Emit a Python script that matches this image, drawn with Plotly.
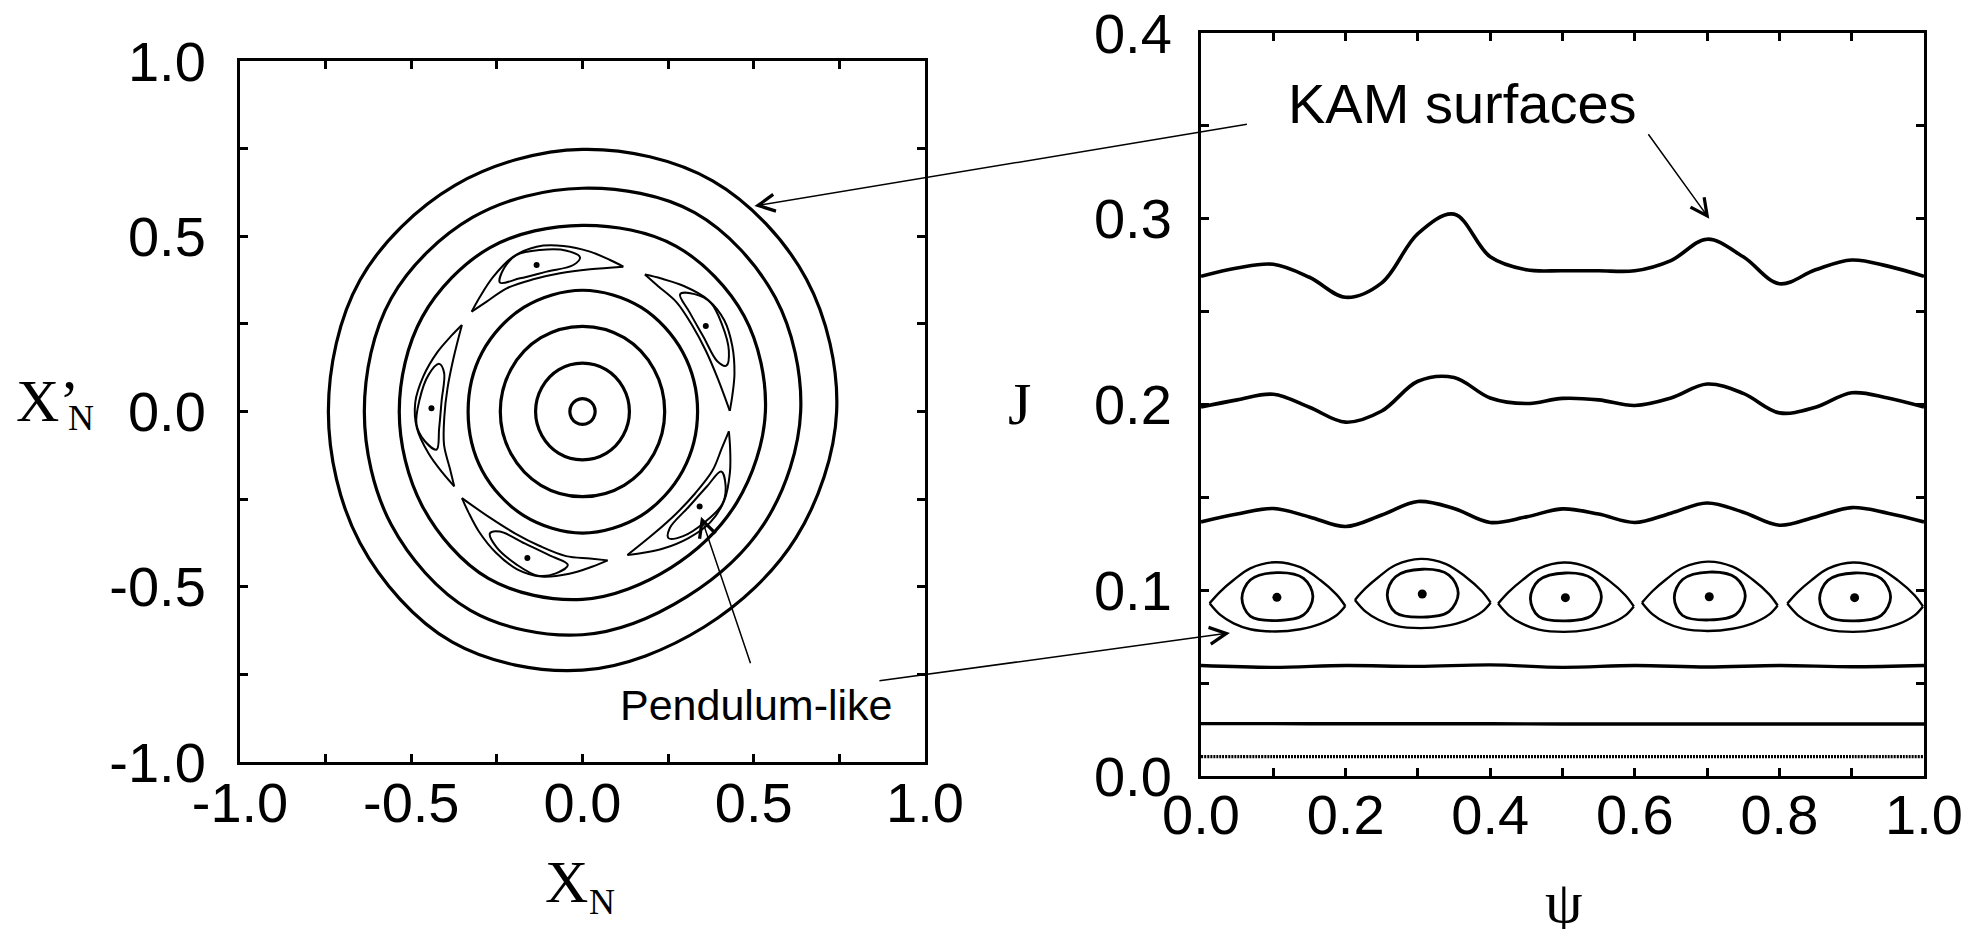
import numpy as np
import plotly.graph_objects as go

W, H = 1978, 929
OFF = 8  # page body margin of the html page

# ---------------- left panel: Poincare section (X_N, X'_N) ----------------
ring_angle_deg = [0, 30, 60, 90, 120, 150, 180, 210, 240, 270, 300, 330]
ring_r1 = [0.037, 0.037, 0.037, 0.037, 0.037, 0.037, 0.037, 0.037, 0.037, 0.037, 0.037, 0.037]
ring_r2 = [0.137, 0.137, 0.138, 0.138, 0.138, 0.137, 0.137, 0.137, 0.138, 0.138, 0.138, 0.137]
ring_r3 = [0.240, 0.241, 0.243, 0.243, 0.243, 0.241, 0.240, 0.241, 0.243, 0.243, 0.243, 0.241]
ring_r4 = [0.336, 0.338, 0.343, 0.346, 0.343, 0.338, 0.334, 0.338, 0.343, 0.347, 0.343, 0.338]
ring_r5 = [0.534, 0.545, 0.545, 0.531, 0.540, 0.540, 0.535, 0.540, 0.550, 0.536, 0.515, 0.520]
ring_r6 = [0.637, 0.650, 0.655, 0.637, 0.640, 0.645, 0.637, 0.645, 0.655, 0.637, 0.610, 0.620]
ring_r7 = [0.742, 0.755, 0.760, 0.748, 0.745, 0.750, 0.742, 0.750, 0.760, 0.738, 0.710, 0.720]
rings = [ring_r1, ring_r2, ring_r3, ring_r4, ring_r5, ring_r6, ring_r7]

# one island of the 5-island chain (the top one)
isl_upper_x = [-0.3236, -0.2993, -0.2603, -0.2020, -0.1338, -0.0560, 0.0219, 0.0803, 0.1192]
isl_upper_y = [0.2848, 0.3276, 0.3847, 0.4418, 0.4703, 0.4722, 0.4560, 0.4322, 0.4132]
isl_lower_x = [-0.3236, -0.2798, -0.2214, -0.1436, -0.0657, 0.0219, 0.1192]
isl_lower_y = [0.2848, 0.3133, 0.3514, 0.3771, 0.3942, 0.4056, 0.4132]
isl_inner_x = [-0.2409, -0.2292, -0.1922, -0.1241, -0.0462, -0.0073, -0.0268, -0.1046, -0.1825, -0.2409]
isl_inner_y = [0.3676, 0.4085, 0.4465, 0.4608, 0.4589, 0.4398, 0.4180, 0.3990, 0.3800, 0.3676]
# elliptic points (dots) of the five islands
isl_dot_x = [-0.134, 0.360, -0.441, 0.342, -0.161]
isl_dot_y = [0.418, 0.244, 0.009, -0.271, -0.418]

# ---------------- right panel: (psi, J) ----------------
psi_grid = [0.0, 0.05, 0.10, 0.15, 0.20, 0.25, 0.30, 0.35, 0.40, 0.45, 0.50,
            0.55, 0.60, 0.65, 0.70, 0.75, 0.80, 0.85, 0.90, 0.95, 1.0]
kam_top = [0.2690, 0.2735, 0.2755, 0.2685, 0.2577, 0.2655, 0.2920, 0.3025, 0.2795, 0.2725, 0.2720,
           0.2720, 0.2720, 0.2775, 0.2890, 0.2795, 0.2650, 0.2725, 0.2778, 0.2745, 0.2690]
kam_mid = [0.1986, 0.2025, 0.2055, 0.1985, 0.1905, 0.1965, 0.2125, 0.2145, 0.2035, 0.2005, 0.2033,
           0.2025, 0.1995, 0.2035, 0.2110, 0.2060, 0.1955, 0.1985, 0.2063, 0.2035, 0.1986]
kam_low = [0.1368, 0.1410, 0.1440, 0.1395, 0.1343, 0.1405, 0.1478, 0.1440, 0.1365, 0.1395, 0.1438,
           0.1410, 0.1365, 0.1415, 0.1470, 0.1420, 0.1350, 0.1395, 0.1445, 0.1415, 0.1368]
flat_psi = [0.0, 0.1, 0.2, 0.3, 0.4, 0.5, 0.6, 0.7, 0.8, 0.9, 1.0]
flat_1 = [0.0595, 0.0585, 0.0595, 0.0590, 0.0598, 0.0585, 0.0595, 0.0587, 0.0595, 0.0588, 0.0595]
flat_2 = [0.0282, 0.0282, 0.0281, 0.0281, 0.0281, 0.0280, 0.0280, 0.0280, 0.0280, 0.0280, 0.0280]
flat_3 = [0.0104, 0.0104, 0.0104, 0.0104, 0.0104, 0.0104, 0.0104, 0.0104, 0.0104, 0.0104, 0.0104]

# eyes (islands): centres and shape offsets relative to the centre dot
eye_psi = [0.105, 0.306, 0.504, 0.703, 0.904]
eye_J = [0.0962, 0.0980, 0.0960, 0.0965, 0.0960]
eye_up_dpsi = [-0.0931, -0.0783, -0.0599, -0.0368, -0.0022, 0.0323, 0.0599, 0.0829, 0.0946]
eye_up_dJ = [-0.0032, 0.0031, 0.0093, 0.0156, 0.0189, 0.0162, 0.0093, 0.0013, -0.0047]
eye_lo_dpsi = [-0.0931, -0.0783, -0.0599, -0.0368, -0.0022, 0.0323, 0.0600, 0.0830, 0.0946]
eye_lo_dJ = [-0.0032, -0.0095, -0.0140, -0.0172, -0.0184, -0.0172, -0.0143, -0.0095, -0.0047]
eye_in_dpsi = [-0.0484, -0.0369, 0.0, 0.0369, 0.0498, 0.0369, 0.0, -0.0369, -0.0484]
eye_in_dJ = [-0.0005, 0.0093, 0.0133, 0.0102, 0.0004, -0.0095, -0.0125, -0.0101, -0.0005]

fig = go.Figure()
BLK = "black"

def add_line(x, y, width, xa="x", ya="y", dash=None):
    fig.add_trace(go.Scatter(x=list(x), y=list(y), mode="lines", xaxis=xa, yaxis=ya,
                             line=dict(color=BLK, width=width, shape="spline", smoothing=1.0, dash=dash),
                             hoverinfo="skip", showlegend=False))

# rings (closed curves: first point repeated at end -> closed spline)
th = np.deg2rad(ring_angle_deg)
for r in rings:
    rr = np.array(r)
    xs = np.append(rr * np.cos(th), rr[0])
    ys = np.append(rr * np.sin(th), 0.0)
    add_line(xs, ys, 3.2)

# islands: rotate the read island to the position of each dot
ref_ang = np.arctan2(isl_dot_y[0], isl_dot_x[0])
for dx, dy in zip(isl_dot_x, isl_dot_y):
    a = np.arctan2(dy, dx) - ref_ang
    c, s = np.cos(a), np.sin(a)
    for px, py in [(isl_upper_x, isl_upper_y), (isl_lower_x, isl_lower_y), (isl_inner_x, isl_inner_y)]:
        px = np.array(px); py = np.array(py)
        add_line(c * px - s * py, s * px + c * py, 2.0)
fig.add_trace(go.Scatter(x=isl_dot_x, y=isl_dot_y, mode="markers", xaxis="x", yaxis="y",
                         marker=dict(color=BLK, size=6, symbol="circle"), hoverinfo="skip", showlegend=False))

# right panel curves
for yy in [kam_top, kam_mid, kam_low]:
    add_line(psi_grid, yy, 3.6, "x2", "y2")
add_line(flat_psi, flat_1, 3.4, "x2", "y2")
add_line(flat_psi, flat_2, 3.4, "x2", "y2")
add_line(flat_psi, flat_3, 3.2, "x2", "y2", dash="2px,1px")

for cp, cj in zip(eye_psi, eye_J):
    add_line(np.array(eye_up_dpsi) + cp, np.array(eye_up_dJ) + cj, 2.4, "x2", "y2")
    add_line(np.array(eye_lo_dpsi) + cp, np.array(eye_lo_dJ) + cj, 2.4, "x2", "y2")
    add_line(np.array(eye_in_dpsi) + cp, np.array(eye_in_dJ) + cj, 2.8, "x2", "y2")
fig.add_trace(go.Scatter(x=eye_psi, y=eye_J, mode="markers", xaxis="x2", yaxis="y2",
                         marker=dict(color=BLK, size=9), hoverinfo="skip", showlegend=False))

# ---------------- axes ----------------
TICKFONT = dict(family="Liberation Sans, Arial, sans-serif", size=56, color=BLK)
def px_x(p): return (p - OFF) / W
def px_y(p): return 1 - (p - OFF) / H

lv = [-1.0, -0.75, -0.5, -0.25, 0.0, 0.25, 0.5, 0.75, 1.0]
lt = ["-1.0", "", "-0.5", "", "0.0", "", "0.5", "", "1.0"]
rxv = [0.0, 0.1, 0.2, 0.3, 0.4, 0.5, 0.6, 0.7, 0.8, 0.9, 1.0]
rxt = ["0.0", "", "0.2", "", "0.4", "", "0.6", "", "0.8", "", "1.0"]
ryv = [0.0, 0.05, 0.1, 0.15, 0.2, 0.25, 0.3, 0.35, 0.4]
ryt = ["0.0", "", "0.1", "", "0.2", "", "0.3", "", "0.4"]

common = dict(showline=True, linecolor=BLK, linewidth=3, mirror="ticks", ticks="inside",
              ticklen=8, tickwidth=2.5, tickcolor=BLK, showgrid=False, zeroline=False,
              tickfont=TICKFONT, tickmode="array", fixedrange=True, automargin=False,
              ticklabeloverflow="allow")

fig.update_layout(
    width=W, height=H, margin=dict(l=0, r=0, t=0, b=0, autoexpand=False),
    paper_bgcolor="white", plot_bgcolor="white", showlegend=False,
    xaxis=dict(domain=[px_x(240), px_x(925)], range=[-1, 1], tickvals=lv, ticktext=lt,
               anchor="y", ticklabelstandoff=-10, **common),
    yaxis=dict(domain=[px_y(762), px_y(61)], range=[-1, 1], tickvals=lv, ticktext=lt,
               anchor="x", ticklabelstandoff=20, **common),
    xaxis2=dict(domain=[px_x(1201), px_x(1924)], range=[0, 1], tickvals=rxv, ticktext=rxt,
                anchor="y2", ticklabelstandoff=-12, **common),
    yaxis2=dict(domain=[px_y(776), px_y(33)], range=[0, 0.4], tickvals=ryv, ticktext=ryt,
                anchor="x2", ticklabelstandoff=15, **common),
)

SERIF = dict(family="Liberation Serif, Times New Roman, serif", size=60, color=BLK)
SUB = dict(family="Liberation Serif, Times New Roman, serif", size=36, color=BLK)
SANS = dict(family="Liberation Sans, Arial, sans-serif", color=BLK)
ann = []
def txt(t, x, y, font, xanchor="left"):
    ann.append(dict(text=t, x=px_x(x), y=px_y(y), xref="paper", yref="paper",
                    xanchor=xanchor, yanchor="middle", showarrow=False, font=font))

txt("X’", 14, 401, SERIF)
txt("N", 66, 418, SUB)
txt("X", 543, 882, SERIF)
txt("N", 587, 902, SUB)
txt("J", 1019, 404, SERIF, "center")
txt("ψ", 1564, 902, SERIF, "center")
txt("KAM surfaces", 1462, 103, dict(size=56, **SANS), "center")
txt("Pendulum-like", 756, 705, dict(size=43, **SANS), "center")

arrow = dict(showarrow=True, arrowhead=5, arrowsize=2.2, arrowwidth=1.5, arrowcolor=BLK,
             text="", axref="pixel", ayref="pixel")
ann.append(dict(x=0.502, y=0.586, xref="x", yref="y", ax=494, ay=-82, **arrow))
ann.append(dict(x=0.703, y=0.300, xref="x2", yref="y2", ax=-62, ay=-86, **arrow))
ann.append(dict(x=0.346, y=-0.300, xref="x", yref="y", ax=50, ay=148, **arrow))
ann.append(dict(x=0.040, y=0.0770, xref="x2", yref="y2", ax=-352, ay=48, **arrow))
fig.update_layout(annotations=ann)

fig.write_html("out.html")
